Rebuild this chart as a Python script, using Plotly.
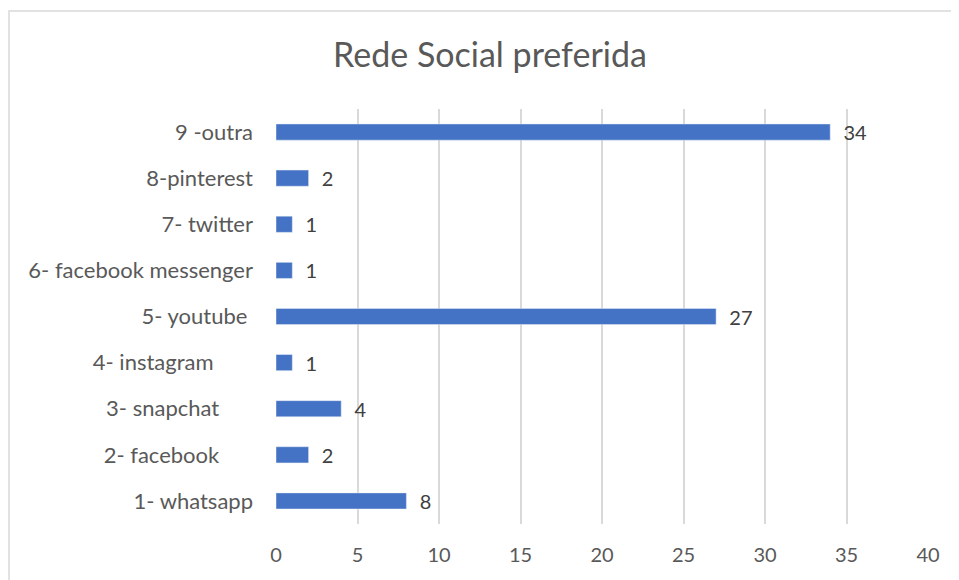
import plotly.graph_objects as go

NBSP = "\u00a0"

# categories bottom -> top, as in the reference
categories = [
    "1- whatsapp",
    "2- facebook" + NBSP * 6,
    "3- snapchat" + NBSP * 6,
    "4- instagram" + NBSP * 7,
    "5- youtube" + NBSP,
    "6- facebook messenger",
    "7- twitter",
    "8-pinterest",
    "9 -outra",
]
values = [8, 2, 4, 1, 27, 1, 1, 2, 34]
x_ticks = [0, 5, 10, 15, 20, 25, 30, 35, 40]

title_text = "Rede Social preferida"
bar_color = "#4472C4"
text_color = "#595959"
grid_color = "#D9D9D9"
font_family = "Lato, 'Open Sans', sans-serif"

# the page puts the figure 8px in from the window edge, so the
# plot area is set 8px up/left to land where the reference has it
PL, PR, PT, PB = 268, 920, 101, 516

fig = go.Figure(
    go.Bar(
        x=values,
        y=categories,
        orientation="h",
        marker=dict(color=bar_color),
        text=values,
        texttemplate=NBSP * 2 + "%{x}",
        textposition="outside",
        constraintext="none",
        textfont=dict(size=20, color="#404040", family=font_family),
        cliponaxis=False,
    )
)

fig.update_layout(
    width=959,
    height=580,
    margin=dict(l=PL, r=959 - PR, t=PT, b=580 - PB),
    paper_bgcolor="white",
    plot_bgcolor="white",
    bargap=0.65,
    showlegend=False,
    font=dict(family=font_family, color=text_color, size=20),
    title=dict(
        text=title_text,
        x=482 / 959,
        xanchor="center",
        y=1 - 47 / 580,
        yanchor="middle",
        font=dict(size=34, color=text_color, family=font_family),
    ),
)

fig.update_xaxes(
    range=[0, 40],
    tickvals=x_ticks,
    showgrid=True,
    gridcolor=grid_color,
    gridwidth=1.5,
    zeroline=False,
    showline=False,
    ticks="",
    ticklabelstandoff=17,
    tickfont=dict(size=20, color=text_color),
)
fig.update_yaxes(
    showgrid=False,
    zeroline=False,
    showline=False,
    ticks="",
    ticklabelstandoff=22,
    tickfont=dict(size=22, color=text_color),
)

# chart frame (partly cut off, as in the reference)
w, h = PR - PL, PB - PT
fig.add_shape(
    type="rect",
    xref="paper",
    yref="paper",
    x0=(1 - PL) / w,
    x1=(970 - PL) / w,
    y0=(PB - 600) / h,
    y1=(PB - 3) / h,
    line=dict(color=grid_color, width=1.5),
    fillcolor="rgba(0,0,0,0)",
    layer="below",
)

fig.write_html("out.html")
